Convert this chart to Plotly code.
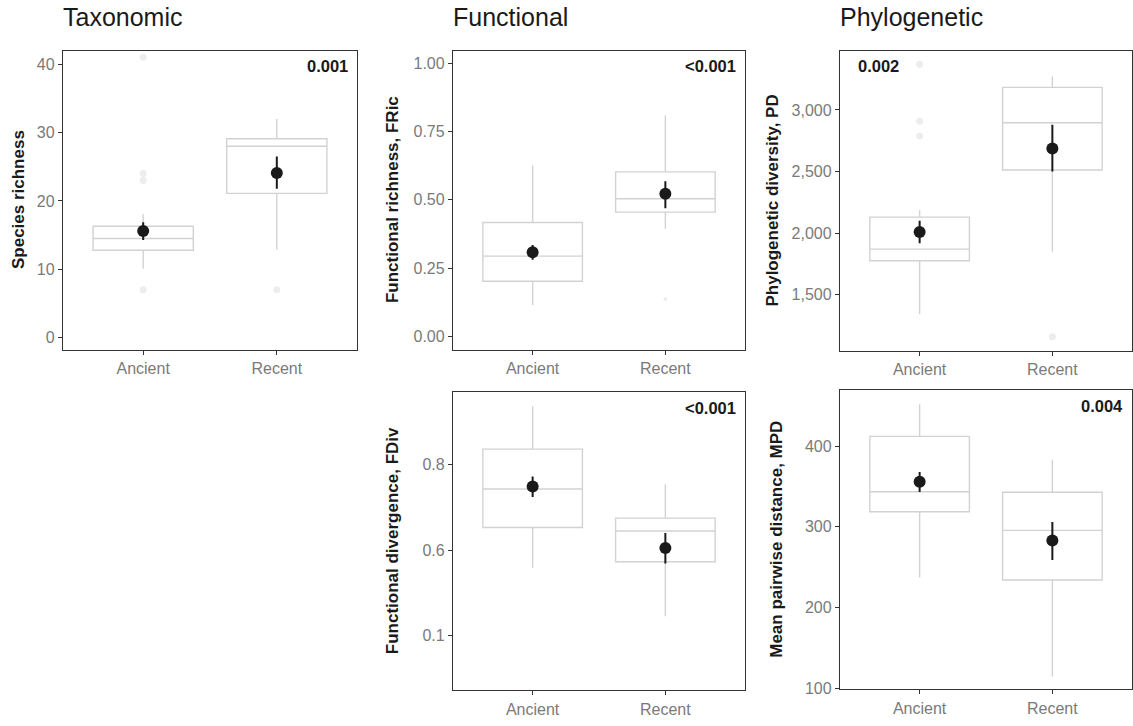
import plotly.graph_objects as go

# ---------------- data ----------------
categories = ["Ancient", "Recent"]

# Taxonomic - species richness
sr_q1 = [12.8, 21.1]
sr_median = [14.5, 28.0]
sr_q3 = [16.3, 29.1]
sr_lower = [10.1, 12.9]
sr_upper = [18.1, 32.0]
sr_mean = [15.6, 24.1]
sr_ci_hi = [16.9, 26.5]
sr_ci_lo = [14.3, 21.8]
sr_out_cat = ["Ancient", "Ancient", "Ancient", "Ancient", "Recent"]
sr_out_val = [41.0, 24.0, 23.0, 7.0, 7.0]
sr_ticks = [0, 10, 20, 30, 40]
sr_ticktext = ["0", "10", "20", "30", "40"]
sr_p = "0.001"

# Functional richness, FRic
fric_q1 = [0.202, 0.455]
fric_median = [0.294, 0.504]
fric_q3 = [0.417, 0.602]
fric_lower = [0.115, 0.393]
fric_upper = [0.625, 0.808]
fric_mean = [0.308, 0.522]
fric_ci_hi = [0.335, 0.568]
fric_ci_lo = [0.281, 0.469]
fric_out_cat = ["Recent"]
fric_out_val = [0.137]
fric_ticks = [0.0, 0.25, 0.5, 0.75, 1.0]
fric_ticktext = ["0.00", "0.25", "0.50", "0.75", "1.00"]
fric_p = "<0.001"

# Phylogenetic diversity, PD
pd_q1 = [1776, 2513]
pd_median = [1870, 2896]
pd_q3 = [2130, 3183]
pd_lower = [1342, 1849]
pd_upper = [2186, 3272]
pd_mean = [2010, 2687]
pd_ci_hi = [2100, 2880]
pd_ci_lo = [1918, 2500]
pd_out_cat = ["Ancient", "Ancient", "Ancient", "Recent"]
pd_out_val = [3371, 2907, 2789, 1160]
pd_ticks = [1500, 2000, 2500, 3000]
pd_ticktext = ["1,500", "2,000", "2,500", "3,000"]
pd_p = "0.002"

# Functional divergence, FDiv (axis labels as printed on the original)
fdiv_q1 = [0.653, 0.573]
fdiv_median = [0.743, 0.645]
fdiv_q3 = [0.836, 0.675]
fdiv_lower = [0.559, 0.446]
fdiv_upper = [0.936, 0.754]
fdiv_mean = [0.749, 0.605]
fdiv_ci_hi = [0.772, 0.640]
fdiv_ci_lo = [0.724, 0.569]
fdiv_out_cat = []
fdiv_out_val = []
fdiv_ticks = [0.4, 0.6, 0.8]
fdiv_ticktext = ["0.1", "0.6", "0.8"]
fdiv_p = "<0.001"

# Mean pairwise distance, MPD
mpd_q1 = [318.5, 234.0]
mpd_median = [343.4, 295.5]
mpd_q3 = [412.0, 342.7]
mpd_lower = [237.0, 114.0]
mpd_upper = [452.0, 383.0]
mpd_mean = [355.7, 282.8]
mpd_ci_hi = [368.0, 305.8]
mpd_ci_lo = [343.0, 258.6]
mpd_out_cat = []
mpd_out_val = []
mpd_ticks = [100, 200, 300, 400]
mpd_ticktext = ["100", "200", "300", "400"]
mpd_p = "0.004"

column_titles = ["Taxonomic", "Functional", "Phylogenetic"]

# ---------------- layout helpers ----------------
W, H = 1133, 726
FONT = "Liberation Sans, Arial, Helvetica, sans-serif"
BOX_COLOR = "#D2D2D2"
OUT_COLOR = "#EDEDED"
FRAME = "#333333"
TICK_COLOR = "#7a7a7a"


def xd(l, r):
    return [l / W, r / W]


def yd(top, bottom):
    return [1 - bottom / H, 1 - top / H]


panels = [
    dict(name="sr", title="Species richness", q1=sr_q1, med=sr_median, q3=sr_q3,
         lo=sr_lower, hi=sr_upper, mean=sr_mean, cihi=sr_ci_hi, cilo=sr_ci_lo,
         oc=sr_out_cat, ov=sr_out_val, tv=sr_ticks, tt=sr_ticktext, p=sr_p,
         xdom=(63, 357), ydom=(51, 353), yrange=[-1.74, 42.0], titlex=18,
         pside="right", osize=7),
    dict(name="fric", title="Functional richness, FRic", q1=fric_q1, med=fric_median, q3=fric_q3,
         lo=fric_lower, hi=fric_upper, mean=fric_mean, cihi=fric_ci_hi, cilo=fric_ci_lo,
         oc=fric_out_cat, ov=fric_out_val, tv=fric_ticks, tt=fric_ticktext, p=fric_p,
         xdom=(453, 745), ydom=(51, 353), yrange=[-0.048, 1.046], titlex=392,
         pside="right", osize=4),
    dict(name="pd", title="Phylogenetic diversity, PD", q1=pd_q1, med=pd_median, q3=pd_q3,
         lo=pd_lower, hi=pd_upper, mean=pd_mean, cihi=pd_ci_hi, cilo=pd_ci_lo,
         oc=pd_out_cat, ov=pd_out_val, tv=pd_ticks, tt=pd_ticktext, p=pd_p,
         xdom=(840, 1132), ydom=(51, 354), yrange=[1047, 3482], titlex=773,
         pside="left", osize=7),
    dict(name="fdiv", title="Functional divergence, FDiv", q1=fdiv_q1, med=fdiv_median, q3=fdiv_q3,
         lo=fdiv_lower, hi=fdiv_upper, mean=fdiv_mean, cihi=fdiv_ci_hi, cilo=fdiv_ci_lo,
         oc=fdiv_out_cat, ov=fdiv_out_val, tv=fdiv_ticks, tt=fdiv_ticktext, p=fdiv_p,
         xdom=(453, 745), ydom=(396, 697), yrange=[0.273, 0.969], titlex=392,
         pside="right", osize=7),
    dict(name="mpd", title="Mean pairwise distance, MPD", q1=mpd_q1, med=mpd_median, q3=mpd_q3,
         lo=mpd_lower, hi=mpd_upper, mean=mpd_mean, cihi=mpd_ci_hi, cilo=mpd_ci_lo,
         oc=mpd_out_cat, ov=mpd_out_val, tv=mpd_ticks, tt=mpd_ticktext, p=mpd_p,
         xdom=(840, 1132), ydom=(394, 696), yrange=[98.4, 469.3], titlex=777,
         pside="right", osize=7),
]

fig = go.Figure()
annotations = []
layout_axes = {}

for i, pnl in enumerate(panels, start=1):
    sx = "" if i == 1 else str(i)
    xa, ya = "x" + sx, "y" + sx

    fig.add_trace(go.Box(
        x=categories, q1=pnl["q1"], median=pnl["med"], q3=pnl["q3"],
        lowerfence=pnl["lo"], upperfence=pnl["hi"],
        width=0.75, whiskerwidth=0, fillcolor="white",
        line=dict(color=BOX_COLOR, width=1.4), boxpoints=False,
        xaxis=xa, yaxis=ya, showlegend=False, hoverinfo="skip"))

    if pnl["oc"]:
        fig.add_trace(go.Scatter(
            x=pnl["oc"], y=pnl["ov"], mode="markers",
            marker=dict(color=OUT_COLOR, size=pnl["osize"]),
            xaxis=xa, yaxis=ya, showlegend=False, hoverinfo="skip"))

    err_plus = [h - m for h, m in zip(pnl["cihi"], pnl["mean"])]
    err_minus = [m - l for m, l in zip(pnl["mean"], pnl["cilo"])]
    fig.add_trace(go.Scatter(
        x=categories, y=pnl["mean"], mode="markers",
        marker=dict(color="#1a1a1a", size=12),
        error_y=dict(type="data", symmetric=False, array=err_plus, arrayminus=err_minus,
                     color="#1a1a1a", thickness=2, width=0),
        xaxis=xa, yaxis=ya, showlegend=False, hoverinfo="skip"))

    l, r = pnl["xdom"]
    t, b = pnl["ydom"]
    common = dict(showline=True, mirror=True, linecolor=FRAME, linewidth=1.3,
                  ticks="outside", ticklen=4, tickwidth=1.3, tickcolor=FRAME,
                  showgrid=False, zeroline=False,
                  tickfont=dict(family=FONT, size=16, color=TICK_COLOR))
    layout_axes["xaxis" + sx] = dict(domain=xd(l, r), anchor=ya, type="category",
                                     categoryorder="array", categoryarray=categories,
                                     range=[-0.6, 1.6], **common)
    layout_axes["yaxis" + sx] = dict(domain=yd(t, b), anchor=xa, range=pnl["yrange"],
                                     tickmode="array", tickvals=pnl["tv"], ticktext=pnl["tt"],
                                     **common)

    # y-axis title
    annotations.append(dict(
        text="<b>" + pnl["title"] + "</b>", textangle=-90,
        x=pnl["titlex"] / W, y=1 - ((t + b) / 2) / H, xref="paper", yref="paper",
        xanchor="center", yanchor="middle", showarrow=False,
        font=dict(family=FONT, size=17, color="#1a1a1a")))

    # p-value label
    if pnl["pside"] == "right":
        px_, anchor = (r - 7) / W, "right"
    else:
        px_, anchor = (l + 16) / W, "left"
    annotations.append(dict(
        text="<b>" + pnl["p"] + "</b>", x=px_, y=1 - (t + 16) / H,
        xref="paper", yref="paper", xanchor=anchor, yanchor="middle",
        showarrow=False, font=dict(family=FONT, size=16.5, color="#1a1a1a")))

# column titles
for title, left in zip(column_titles, [61, 451, 838]):
    annotations.append(dict(
        text=title, x=left / W, y=1 - 17 / H, xref="paper", yref="paper",
        xanchor="left", yanchor="middle", showarrow=False,
        font=dict(family=FONT, size=25, color="#1a1a1a")))

fig.update_layout(
    width=W, height=H, margin=dict(l=0, r=0, t=0, b=0),
    paper_bgcolor="white", plot_bgcolor="white",
    showlegend=False, annotations=annotations, boxmode="overlay",
    **layout_axes)

fig.write_html(
    "out.html",
    config={"displayModeBar": False},
    post_script="document.body.style.margin='0px';document.body.style.overflow='hidden';")
